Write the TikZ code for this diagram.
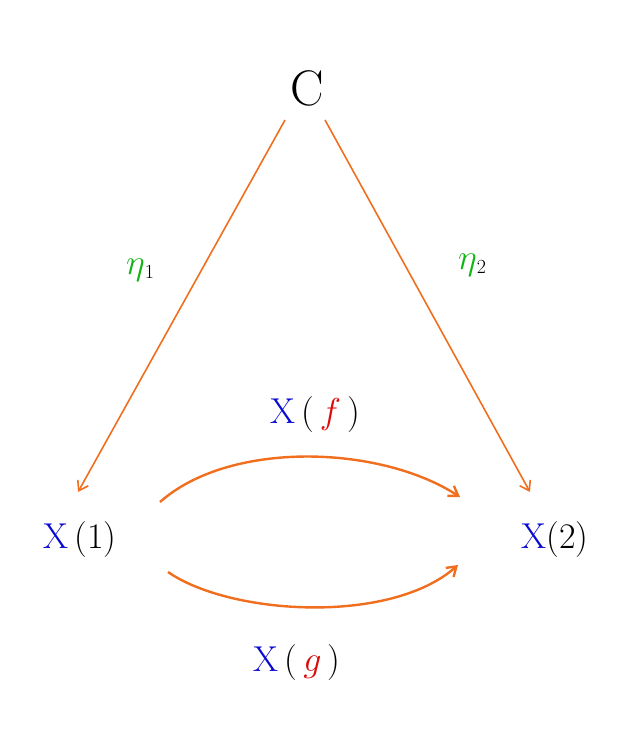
\RequirePackage{fix-cm}
\documentclass[tikz,border=0pt]{standalone}
\usetikzlibrary{arrows.meta}
\definecolor{arr}{RGB}{240,110,30}
\definecolor{gr}{RGB}{20,180,20}
\definecolor{bl}{RGB}{10,10,210}
\definecolor{rd}{RGB}{220,10,10}
\begin{document}
\begin{tikzpicture}[x=1pt,y=-1pt,
  lbl/.style={font=\fontsize{36}{42}\selectfont},
  ar/.style={draw=arr,line width=1.6pt,-{Straight Barb[length=9pt,width=12pt]}},
  thick ar/.style={ar,line width=2.4pt}]
\useasboundingbox (0,0) rectangle (642,730);
\node[lbl,font=\fontsize{50}{56}\selectfont] (C) at (307,88) {C};
\node[lbl] (X1) at (80,540) {\textcolor{bl}{X}\,(1)};
\node[lbl] (X2) at (555,540) {\textcolor{bl}{X}(2)};
\node[lbl] (e1) at (140,270) {\textcolor{gr}{$\eta$}\raisebox{-4pt}{\fontsize{20}{22}\selectfont 1}};
\node[lbl] (e2) at (472,265) {\textcolor{gr}{$\eta$}\raisebox{-4pt}{\fontsize{20}{22}\selectfont 2}};
\node[lbl] (Xf) at (315,415) {\textcolor{bl}{X}\,(\,\textcolor{rd}{$f$}\,)};
\node[lbl] (Xg) at (297,663) {\textcolor{bl}{X}\,(\,\textcolor{rd}{$g$}\,)};
\coordinate (c1) at (285,120); \coordinate (c2) at (325,120);
\coordinate (a1) at (78,492); \coordinate (a2) at (530,492);
\draw[ar] (c1) -- (a1);
\draw[ar] (c2) -- (a2);
\coordinate (u1) at (160,502); \coordinate (u2) at (460,497);
\coordinate (l1) at (168,572); \coordinate (l2) at (458,565);
\draw[thick ar] (u1) .. controls (230,440) and (380,445) .. (u2);
\draw[thick ar] (l1) .. controls (230,615) and (390,625) .. (l2);
\end{tikzpicture}
\end{document}
